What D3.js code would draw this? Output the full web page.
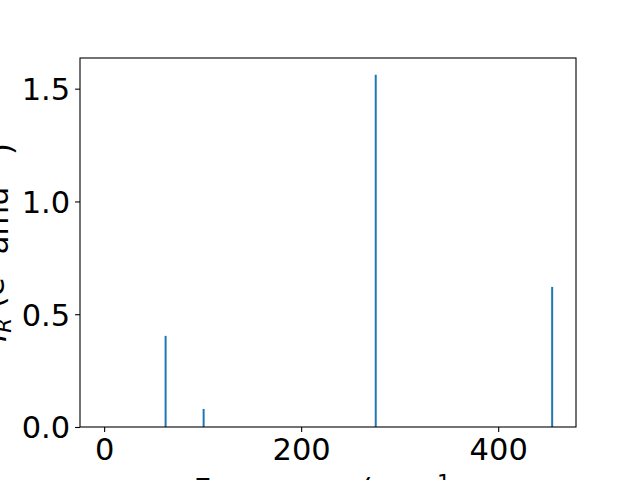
<!DOCTYPE html>
<html>
<head>
<meta charset="utf-8">
<script src="https://cdn.jsdelivr.net/npm/d3@7"></script>
<style>
  body { margin: 0; background: #fff; }
  svg text { font-family: "DejaVu Sans", sans-serif; fill: #000; }
</style>
</head>
<body>
<div id="chart"></div>
<script>
// IR intensities
const frequencies = [62.4, 101, 275.7, 454.8];
const intensities = [0.404, 0.08, 1.562, 0.621];
const xTicks = [0, 200, 400];
const yTicks = [0.0, 0.5, 1.0, 1.5];

const W = 640, H = 480;
const margin = {top: 58, right: 64, bottom: 53, left: 80};
const fontSize = 30.5;

const svg = d3.select("#chart").append("svg")
    .attr("width", W)
    .attr("height", H);

const x = d3.scaleLinear()
    .domain([-24.5, 479])
    .range([margin.left, W - margin.right]);

const y = d3.scaleLinear()
    .domain([0, 1.636])
    .range([H - margin.bottom, margin.top]);

// stems
svg.append("g")
    .selectAll("line")
    .data(frequencies)
    .enter().append("line")
    .attr("x1", d => x(d))
    .attr("x2", d => x(d))
    .attr("y1", y(0))
    .attr("y2", (d, i) => y(intensities[i]))
    .style("stroke", "#1f77b4")
    .style("stroke-width", 2);

// frame
svg.append("rect")
    .attr("x", margin.left)
    .attr("y", margin.top)
    .attr("width", W - margin.left - margin.right)
    .attr("height", H - margin.top - margin.bottom)
    .style("fill", "none")
    .style("stroke", "#000")
    .style("stroke-width", 1.1);

// x axis
const xAxis = d3.axisBottom(x).tickValues(xTicks).tickSize(4.9).tickPadding(4.9)
    .tickFormat(d3.format("d"));
const gx = svg.append("g")
    .attr("transform", `translate(0,${y(0)})`)
    .call(xAxis);
gx.select(".domain").remove();
gx.selectAll(".tick line").style("stroke", "#000").style("stroke-width", 1.1);
gx.selectAll(".tick text").style("font-size", fontSize + "px")
    .attr("font-family", null).attr("dy", "0.76em");

// y axis
const yAxis = d3.axisLeft(y).tickValues(yTicks).tickSize(4.9).tickPadding(4.9)
    .tickFormat(d3.format(".1f"));
const gy = svg.append("g")
    .attr("transform", `translate(${margin.left},0)`)
    .call(yAxis);
gy.select(".domain").remove();
gy.selectAll(".tick line").style("stroke", "#000").style("stroke-width", 1.1);
gy.selectAll(".tick text").style("font-size", fontSize + "px")
    .attr("font-family", null).attr("dy", "0.36em");

// x label
const xl = svg.append("text")
    .attr("x", (margin.left + W - margin.right) / 2)
    .attr("y", 500)
    .attr("text-anchor", "middle")
    .style("font-size", fontSize + "px");
xl.append("tspan").text("Frequency (cm");
xl.append("tspan").attr("dy", "-0.45em").style("font-size", "0.7em").text("−1");
xl.append("tspan").attr("dy", "0.45em").text(")");

// y label
const yl = svg.append("text")
    .attr("transform", `translate(6,${(margin.top + H - margin.bottom) / 2}) rotate(-90)`)
    .attr("text-anchor", "middle")
    .style("font-size", fontSize + "px");
yl.append("tspan").style("font-style", "italic").text("I");
yl.append("tspan").attr("dy", "0.22em").style("font-size", "0.7em").style("font-style", "italic").text("R");
yl.append("tspan").attr("dy", "-0.22em").text(" (e");
yl.append("tspan").attr("dy", "-0.45em").style("font-size", "0.7em").text("2");
yl.append("tspan").attr("dy", "0.45em").text(" amu");
yl.append("tspan").attr("dy", "-0.45em").style("font-size", "0.7em").text("−1");
yl.append("tspan").attr("dy", "0.45em").text(")");
</script>
</body>
</html>
